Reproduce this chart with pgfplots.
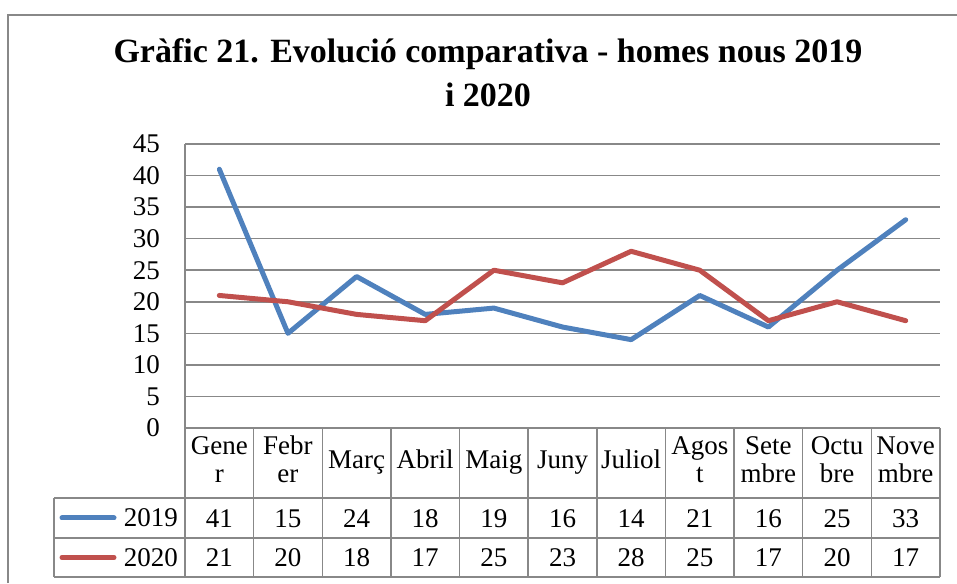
\documentclass[border=0pt]{standalone}
\usepackage{fontspec}
\setmainfont{Liberation Serif}
\usepackage{pgfplots}
\usepackage{pgfplotstable}
\pgfplotsset{compat=1.18}
\definecolor{s19}{RGB}{79,129,189}
\definecolor{s20}{RGB}{192,80,77}
\definecolor{gridgray}{RGB}{136,136,136}
\newcommand{\lbl}{\fontsize{27}{28}\selectfont}
\pgfplotstableread{
x a b
0 41 21
1 15 20
2 24 18
3 18 17
4 19 25
5 16 23
6 14 28
7 21 25
8 16 17
9 25 20
10 33 17
}\data
\begin{document}
\begin{tikzpicture}[x=1pt,y=1pt]
\useasboundingbox (0,0) rectangle (957,583);
% outer frame
\draw[gridgray, line width=2pt] (8,0) -- (8,568) -- (957,568);
% title
\node[anchor=base, font=\fontsize{34}{38}\selectfont\bfseries] at (488,520) {Gràfic 21. Evolució comparativa - homes nous 2019};
\node[anchor=base, font=\fontsize{34}{38}\selectfont\bfseries] at (488,476) {i 2020};
\begin{axis}[
  at={(185pt,155pt)}, anchor=south west,
  scale only axis, width=755pt, height=284pt,
  xmin=-0.5, xmax=10.5, ymin=0, ymax=45,
  ytick={0,5,...,45}, xtick={0,...,10},
  xticklabels={{\strut Gene\\\strut r},{\strut Febr\\\strut er},{\strut Març},{\strut Abril},{\strut Maig},{\strut Juny},{\strut Juliol},{\strut Agos\\\strut t},{\strut Sete\\\strut mbre},{\strut Octu\\\strut bre},{\strut Nove\\\strut mbre}},
  xticklabel style={anchor=center, yshift=-35pt, align=center, font=\lbl, inner sep=0pt},
  yticklabel style={font=\lbl, anchor=east, inner sep=0pt, xshift=-25pt},
  major tick length=0pt,
  ymajorgrids, grid style={gridgray, line width=1.5pt},
  axis x line*=bottom, axis y line*=left,
  axis line style={draw=gridgray, line width=1.5pt, -},
  /pgf/number format/assume math mode=true,
  clip=false,
]
\addplot[s19, line width=5pt, line join=round, line cap=round, mark=none] table[x=x,y=a] {\data};
\addplot[s20, line width=5pt, line join=round, line cap=round, mark=none] table[x=x,y=b] {\data};
% data table rows
\addplot[draw=none, mark=none, nodes near coords, point meta=explicit symbolic,
  nodes near coords style={anchor=center, yshift=-91pt, font=\lbl, text=black, inner sep=0pt}]
  table[x=x, y expr=0, meta=a] {\data};
\addplot[draw=none, mark=none, nodes near coords, point meta=explicit symbolic,
  nodes near coords style={anchor=center, yshift=-130pt, font=\lbl, text=black, inner sep=0pt}]
  table[x=x, y expr=0, meta=b] {\data};
\end{axis}
% table grid
\begin{scope}[gridgray, line width=1.5pt]
\draw (54,85) -- (940,85);
\draw (54,45) -- (940,45);
\draw (54,6) -- (940,6);
\draw (54,85) -- (54,6);
\foreach \k in {0,...,11} {\draw ({185+68.636*\k},155) -- ({185+68.636*\k},6);}
\end{scope}
% legend
\draw[s19, line width=5pt, line cap=round] (62,65) -- (114,65);
\draw[s20, line width=5pt, line cap=round] (62,25.5) -- (114,25.5);
\node[anchor=east, inner sep=0pt, font=\lbl] at (178,65) {2019};
\node[anchor=east, inner sep=0pt, font=\lbl] at (178,25.5) {2020};
\end{tikzpicture}
\end{document}
